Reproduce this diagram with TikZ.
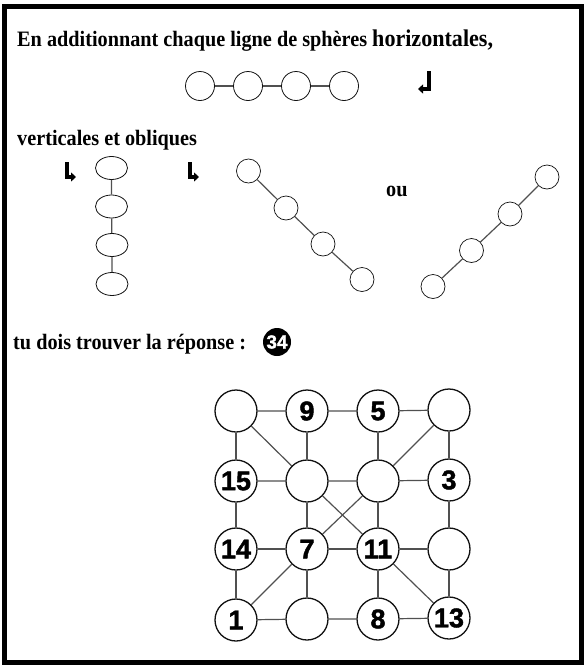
\documentclass[tikz,border=0pt]{standalone}
\usepackage{fontspec}
\setmainfont{Liberation Serif}[FakeStretch=0.92]
\newfontfamily\digitfont{Liberation Sans Bold}[FakeBold=1.6]
\usetikzlibrary{arrows.meta, positioning, shapes.geometric}
\definecolor{ink}{HTML}{111111}
\definecolor{wiregray}{HTML}{505050}

\begin{document}
\begin{tikzpicture}[x=1pt, y=-1pt,
  ball/.style={draw=ink, circle, minimum size=29pt, inner sep=0pt, line width=0.8pt},
  oval/.style={draw=ink, ellipse, minimum width=32pt, minimum height=23pt, inner sep=0pt, line width=0.8pt},
  dot/.style={draw=ink, circle, minimum size=24pt, inner sep=0pt, line width=0.7pt},
  cell/.style={draw=ink, circle, minimum size=42pt, inner sep=0pt, line width=1.3pt, font=\digitfont\fontsize{27}{27}\selectfont},
  wire/.style={draw=wiregray, line width=1.2pt},
  hook/.style={line width=3.6pt, -{Triangle[length=5pt, width=9pt]}},
  say/.style={anchor=base west, inner sep=0pt, font=\bfseries\fontsize{22}{26}\selectfont}
]
\useasboundingbox (0,0) rectangle (586,667);
\draw[line width=5pt] (4.5,6.5) rectangle (581.5,662.5);

% texts
\node[say] (intro) at (17,46) {En additionnant chaque ligne de sphères {\fontsize{24}{26}\selectfont horizontales,}};
\node[say] (kinds) at (17,145) {verticales et obliques};
\node[say] (ou) at (386,196) {ou};
\node[say] (ask) at (13,349) {tu dois trouver la réponse :};
\node[circle, fill=black, minimum size=28pt, inner sep=0pt, text=white, font=\digitfont\fontsize{19}{19}\selectfont] (sum) at (277,342) {34};

% horizontal line
\node[ball] (h1) at (200,86) {};
\node[ball] (h2) at (248,86) {};
\node[ball] (h3) at (296,86) {};
\node[ball] (h4) at (344,86) {};
\draw[wire] (h1) -- (h2) -- (h3) -- (h4);
\draw[hook] (429,71) |- (418,89);

% vertical line
\node[oval] (v1) at (111.5,168) {};
\node[oval] (v2) at (111.5,206.5) {};
\node[oval] (v3) at (112,245) {};
\node[oval] (v4) at (112,284) {};
\draw[wire] (v1) -- (v2) -- (v3) -- (v4);
\draw[hook] (67,162) |- (76,177);

% oblique lines
\node[dot] (d1) at (248.5,171) {};
\node[dot] (d2) at (286,208) {};
\node[dot] (d3) at (323,244) {};
\node[dot] (d4) at (362,279.5) {};
\draw[wire] (d1) -- (d2) -- (d3) -- (d4);
\draw[hook] (190,162) |- (199,177);

\node[dot] (u1) at (433,286.5) {};
\node[dot] (u2) at (471.5,250.5) {};
\node[dot] (u3) at (510,214) {};
\node[dot] (u4) at (547,177) {};
\draw[wire] (u1) -- (u2) -- (u3) -- (u4);

% magic square
\node[cell] (g11) at (236,411) {};
\node[cell] (g12) at (307,411) {9};
\node[cell] (g13) at (378,411) {5};
\node[cell] (g14) at (449,410) {};
\node[cell] (g21) at (236,481) {15};
\node[cell] (g22) at (307,481) {};
\node[cell] (g23) at (378,481) {};
\node[cell] (g24) at (449,480) {3};
\node[cell] (g31) at (236,549) {14};
\node[cell] (g32) at (307,549) {7};
\node[cell] (g33) at (378,549) {11};
\node[cell] (g34) at (449,549) {};
\node[cell] (g41) at (236,620) {1};
\node[cell] (g42) at (307,619) {};
\node[cell] (g43) at (378,619) {8};
\node[cell] (g44) at (449,618) {13};

\draw[wire] (g11) -- (g12) -- (g13) -- (g14);
\draw[wire] (g21) -- (g22) -- (g23) -- (g24);
\draw[wire] (g31) -- (g32) -- (g33) -- (g34);
\draw[wire] (g41) -- (g42) -- (g43) -- (g44);
\draw[wire] (g11) -- (g21) -- (g31) -- (g41);
\draw[wire] (g12) -- (g22) -- (g32) -- (g42);
\draw[wire] (g13) -- (g23) -- (g33) -- (g43);
\draw[wire] (g14) -- (g24) -- (g34) -- (g44);
\draw[wire] (g11) -- (g22) -- (g33) -- (g44);
\draw[wire] (g14) -- (g23) -- (g32) -- (g41);
\end{tikzpicture}
\end{document}
